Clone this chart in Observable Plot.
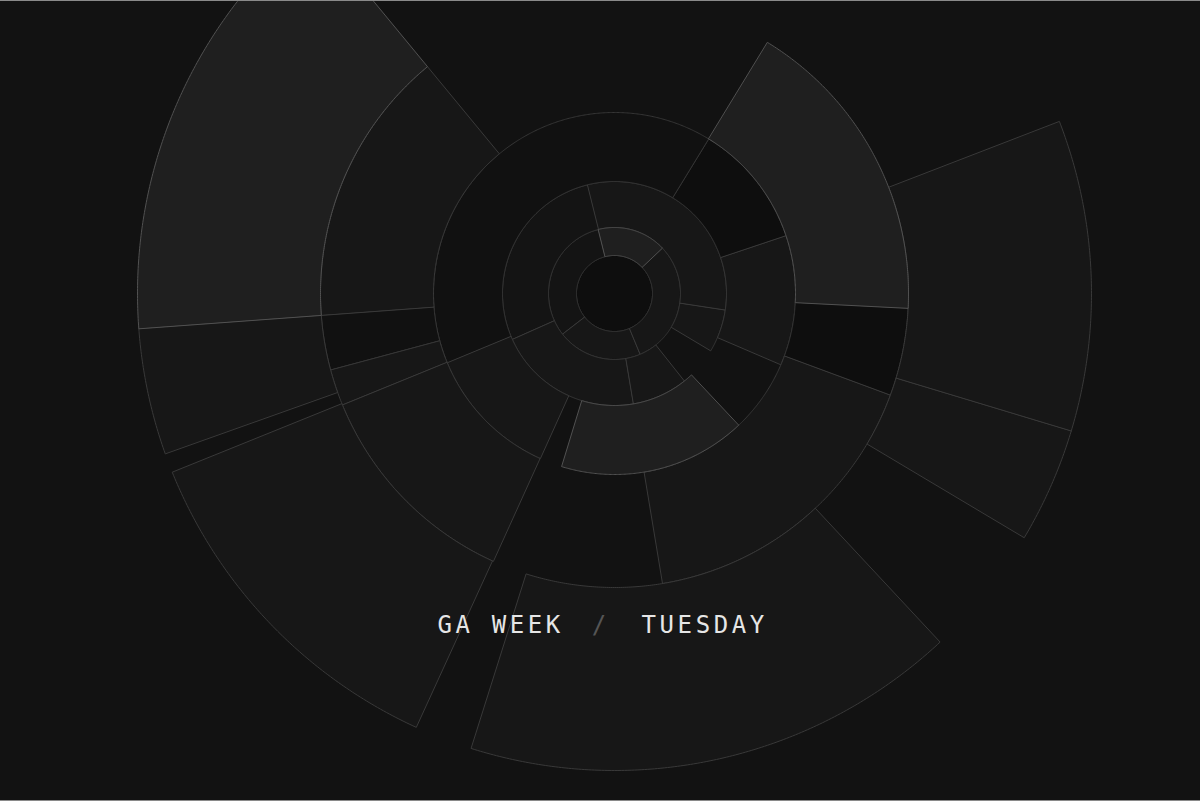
<!DOCTYPE html>
<html><head><meta charset="utf-8">
<script src="https://cdn.jsdelivr.net/npm/d3@7"></script>
<script src="https://cdn.jsdelivr.net/npm/@observablehq/plot@0.6"></script>
<style>
html,body{margin:0;padding:0;background:#121212;}
#wrap{position:relative;width:1200px;height:799px;border-top:1px solid #8a8a8a;border-bottom:1px solid #8a8a8a;overflow:hidden;}
#title{position:absolute;left:0;top:-1px;width:1200px;height:801px;pointer-events:none;font-family:"DejaVu Sans Mono",monospace;font-size:24px;line-height:24px;color:#e6e6e6;}
#title span{position:absolute;white-space:pre;letter-spacing:3.6px;}
</style></head><body>
<div id="wrap"><div id="chart"></div><div id="title"></div></div>
<script>
// ring boundaries (radius, px) — ring k spans radii[k]..radii[k+1]
const radii = [0, 38, 66, 112, 181, 294, 477];

// segments: ring index, start angle, end angle (degrees clockwise from 12 o'clock), shade
const segRing  = [0,
  1, 1, 1, 1,
  2, 2, 2, 2, 2,
  3, 3, 3, 3, 3,
  4, 4, 4, 4, 4, 4, 4,
  5, 5, 5, 5, 5, 5];
const segStart = [0,
  346, 46.6, 157.5, 232.3,
  346, 98.7, 141.6, 170.5, 246,
  247.5, 31.5, 71.5, 136.8, 204.3,
  31.4, 92.9, 110.3, 204.4, 247.8, 255, 265.8,
  68.9, 106.8, 137, 204.6, 250.4, 265.8];
const segEnd   = [360,
  406.6, 157.5, 232.3, 346,
  458.7, 120.8, 170.5, 246, 346,
  391.5, 71.5, 113.2, 197, 247.5,
  92.9, 110.3, 170.6, 247.8, 255, 265.8, 320.5,
  106.8, 120.8, 197.5, 248, 265.8, 320.5];
const segShade = ["dark",
  "light", "mid", "mid", "base",
  "mid", "mid", "mid", "mid", "base",
  "bg", "dark", "mid", "light", "mid",
  "light", "dark", "mid", "mid", "mid", "bg", "mid",
  "mid", "mid", "mid", "mid", "mid", "light"];

const shadeFill   = {dark: "#0e0e0e", bg: "#111111", base: "#141414", mid: "#171717", light: "#1f1f1f"};
const shadeStroke = {dark: "#333333", bg: "#363636", base: "#383838", mid: "#393939", light: "#515151"};

const titleParts = ["GA WEEK", "/", "TUESDAY"];

// build outline points for each annular sector
const rows = [];
const order = d3.range(segRing.length).sort((a, b) =>
  (segShade[a] === "light") - (segShade[b] === "light"));
for (const i of order) {
  const r0 = radii[segRing[i]], r1 = radii[segRing[i] + 1];
  const a0 = segStart[i], a1 = segEnd[i];
  const n = Math.max(2, Math.ceil((a1 - a0) / 0.4));
  const full = (a1 - a0) >= 360;
  const pt = (r, a) => {
    const t = a * Math.PI / 180;
    rows.push({id: i, x: r * Math.sin(t), y: -r * Math.cos(t),
      fc: shadeFill[segShade[i]], sc: shadeStroke[segShade[i]]});
  };
  for (let k = 0; k <= n; ++k) pt(r1, a0 + (a1 - a0) * k / n);
  if (!full) {
    if (r0 === 0) pt(0, a0);
    else for (let k = n; k >= 0; --k) pt(r0, a0 + (a1 - a0) * k / n);
  }
}

const chart = Plot.plot({
  width: 1200, height: 799, margin: 0,
  x: {domain: [-614, 586], range: [0, 1200], axis: null},
  y: {domain: [-292, 507], range: [0, 799], axis: null},
  color: {type: "identity"},
  style: {background: "#121212", overflow: "hidden"},
  marks: [
    Plot.line(rows, {x: "x", y: "y", z: "id", fill: "fc", stroke: "sc",
      strokeWidth: 1, curve: "linear-closed"})
  ]
});
document.getElementById("chart").appendChild(chart);

const title = document.getElementById("title");
const lefts = [437.5, 591.8, 641.5];
const colors = ["#e6e6e6", "#555555", "#e6e6e6"];
titleParts.forEach((t, i) => {
  const s = document.createElement("span");
  s.textContent = t;
  s.style.left = lefts[i] + "px";
  s.style.top = "612.7px";
  s.style.color = colors[i];
  title.appendChild(s);
});
</script>
</body></html>
